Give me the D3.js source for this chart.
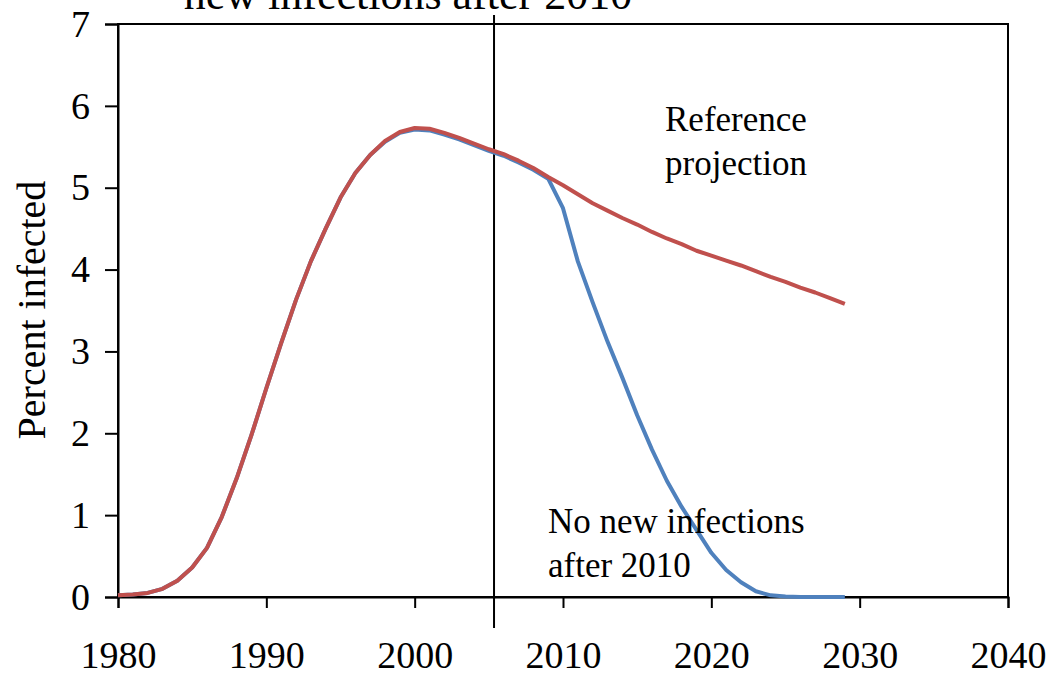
<!DOCTYPE html>
<html lang="en">
<head>
    <meta charset="UTF-8">
    <title>Percent infected</title>
    <script src="https://d3js.org/d3.v7.min.js"></script>
    <style>
        body { margin: 0; background: #fff; }
        svg { display: block; font-family: 'Liberation Serif', 'Times New Roman', serif; }
    </style>
</head>
<body>
    <svg id="chart" width="1055" height="677"></svg>

    <script>
        // yearly values
        const years = d3.range(1980, 2030);
        const reference = [
            0.02, 0.03, 0.05, 0.10, 0.20, 0.36, 0.60, 0.98, 1.45, 1.98,
            2.55, 3.10, 3.63, 4.10, 4.50, 4.88, 5.18, 5.40, 5.57, 5.68,
            5.73, 5.72, 5.67, 5.61, 5.54, 5.47, 5.41, 5.33, 5.24, 5.13,
            5.03, 4.92, 4.81, 4.72, 4.63, 4.55, 4.46, 4.38, 4.31, 4.23,
            4.17, 4.11, 4.05, 3.98, 3.91, 3.85, 3.78, 3.72, 3.65, 3.58
        ];
        const noNewInfections = [
            0.02, 0.03, 0.05, 0.10, 0.20, 0.36, 0.60, 0.98, 1.45, 1.98,
            2.55, 3.10, 3.63, 4.10, 4.50, 4.88, 5.18, 5.40, 5.56, 5.67,
            5.71, 5.70, 5.65, 5.59, 5.52, 5.45, 5.39, 5.31, 5.22, 5.11,
            4.75, 4.10, 3.60, 3.12, 2.68, 2.22, 1.80, 1.42, 1.10, 0.82,
            0.54, 0.33, 0.18, 0.07, 0.02, 0.005, 0, 0, 0, 0
        ];
        const xTicks = [1980, 1990, 2000, 2010, 2020, 2030, 2040];
        const yTicks = [0, 1, 2, 3, 4, 5, 6, 7];
        const markYear = 2005.35;

        const svg = d3.select("#chart");
        const margin = { left: 118, right: 47, top: 24, bottom: 80 };
        const width = 1055, height = 677;

        const x = d3.scaleLinear().domain([1980, 2040]).range([margin.left, width - margin.right]);
        const y = d3.scaleLinear().domain([0, 7]).range([height - margin.bottom, margin.top]);

        // title (its first line sits above the picture, as in the source)
        svg.append("text")
            .attr("x", 408)
            .attr("y", 9)
            .attr("text-anchor", "middle")
            .attr("font-size", 44)
            .text("new infections after 2010");

        // plot frame
        svg.append("rect")
            .attr("x", x(1980))
            .attr("y", y(7))
            .attr("width", x(2040) - x(1980))
            .attr("height", y(0) - y(7))
            .attr("fill", "none")
            .attr("stroke", "#000")
            .attr("stroke-width", 2);

        const xAxis = svg.append("g")
            .attr("transform", `translate(0,${y(0)})`)
            .call(d3.axisBottom(x).tickValues(xTicks).tickFormat(d3.format("d")).tickSize(11).tickPadding(33));
        const yAxis = svg.append("g")
            .attr("transform", `translate(${x(1980)},0)`)
            .call(d3.axisLeft(y).tickValues(yTicks).tickFormat(d3.format("d")).tickSize(13).tickPadding(15));

        [xAxis, yAxis].forEach(a => {
            a.select(".domain").attr("stroke-width", 2);
            a.selectAll(".tick line").attr("stroke-width", 2);
            a.selectAll("text")
                .attr("font-family", "'Liberation Serif', 'Times New Roman', serif")
                .attr("font-size", 38)
                .attr("fill", "#000");
        });
        xAxis.selectAll("text").attr("dy", "0.71em");

        svg.append("text")
            .attr("transform", `translate(45,310) rotate(-90)`)
            .attr("text-anchor", "middle")
            .attr("font-size", 40)
            .text("Percent infected");

        // vertical marker
        svg.append("line")
            .attr("x1", x(markYear))
            .attr("x2", x(markYear))
            .attr("y1", 15)
            .attr("y2", 628)
            .attr("stroke", "#000")
            .attr("stroke-width", 2);

        const line = vals => d3.line()
            .x((d, i) => x(years[i]))
            .y(d => y(d))(vals);

        svg.append("path")
            .attr("d", line(noNewInfections))
            .attr("fill", "none")
            .attr("stroke", "#4F81BD")
            .attr("stroke-width", 4)
            .attr("stroke-linejoin", "round");

        svg.append("path")
            .attr("d", line(reference))
            .attr("fill", "none")
            .attr("stroke", "#C0504D")
            .attr("stroke-width", 4)
            .attr("stroke-linejoin", "round");

        // annotations
        const notes = [
            { x: 665, y: 131, lines: ["Reference", "projection"] },
            { x: 548, y: 533, lines: ["No new infections", "after 2010"] }
        ];
        notes.forEach(n => {
            const t = svg.append("text")
                .attr("x", n.x)
                .attr("y", n.y)
                .attr("font-size", 35);
            n.lines.forEach((l, i) => {
                t.append("tspan").attr("x", n.x).attr("dy", i === 0 ? 0 : 44).text(l);
            });
        });
    </script>
</body>
</html>
